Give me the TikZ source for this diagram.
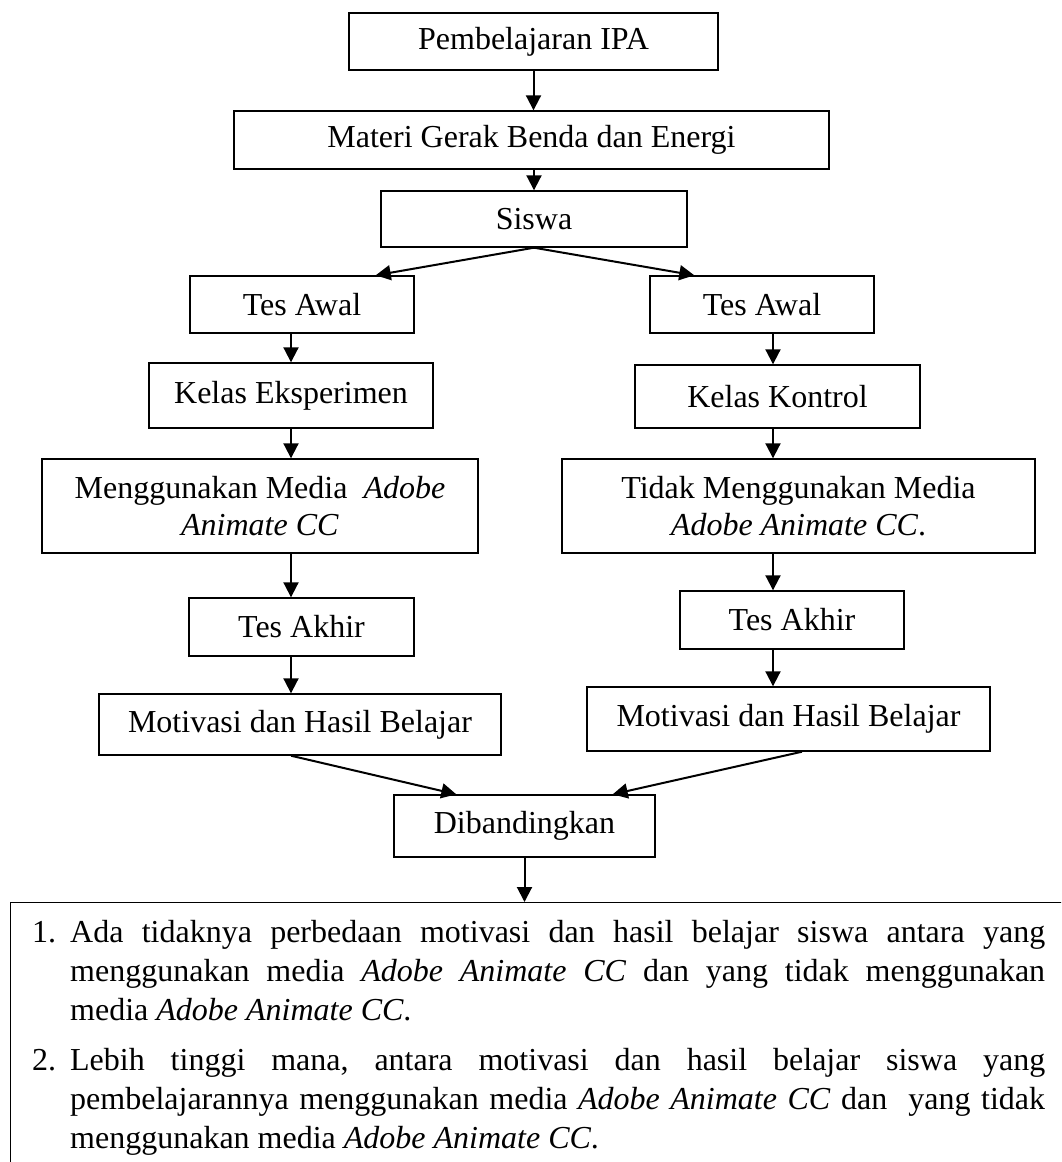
\documentclass[tikz,border=0pt]{standalone}
\usepackage{fontspec}
\setmainfont{Liberation Serif}
\usetikzlibrary{arrows.meta,calc}
\newcommand{\fullline}[1]{\makebox[975pt][s]{#1}}
\begin{document}
\begin{tikzpicture}[x=1pt,y=-1pt,
  box/.style={draw, line width=1.4pt, inner sep=0pt, align=center,
    font=\fontsize{32}{37}\selectfont},
  arr/.style={line width=2pt, -{Triangle[length=15pt,width=15pt]}}]
\fill[white] (0,0) rectangle (1061,1162);
\useasboundingbox (0,0) rectangle (1061,1162);
\clip (0,0) rectangle (1061,1162);

\coordinate (cL) at (291,0);
\coordinate (cR) at (773,0);

\node[box, minimum width=369, minimum height=57] (pem) at (533.5,41.5) {Pembelajaran IPA};
\node[box, minimum width=595, minimum height=58] (mat) at (531.5,140) {Materi Gerak Benda dan Energi};
\node[box, minimum width=306, minimum height=56] (sis) at (534,219) {Siswa};
\node[box, minimum width=224, minimum height=57] (tal) at (302,304.5) {Tes Awal};
\node[box, minimum width=224, minimum height=57] (tar) at (762,304.5) {Tes Awal};
\node[box, minimum width=284, minimum height=65] (kel) at (291,395.5) {Kelas Eksperimen};
\node[box, minimum width=285, minimum height=63] (kek) at (777.5,396.5) {Kelas Kontrol};
\node[box, minimum width=436, minimum height=94] (men) at (260,506) {Menggunakan Media~ \textit{Adobe}\\\textit{Animate CC}};
\node[box, minimum width=473, minimum height=94] (tid) at (798.5,506) {Tidak Menggunakan Media\\\textit{Adobe Animate CC}.};
\node[box, minimum width=225, minimum height=58] (tkl) at (301.5,627) {Tes Akhir};
\node[box, minimum width=224, minimum height=58] (tkr) at (792,620) {Tes Akhir};
\node[box, minimum width=402, minimum height=61] (mol) at (300,724.5) {Motivasi dan Hasil Belajar};
\node[box, minimum width=403, minimum height=64] (mor) at (788.5,719) {Motivasi dan Hasil Belajar};
\node[box, minimum width=261, minimum height=62] (dib) at (524.5,826) {Dibandingkan};
\node[draw, line width=1.4pt, inner sep=0pt, anchor=north west, minimum width=1100, minimum height=320] (resbox) at (9.5,902) {};

\node[anchor=base west, text width=1013pt, align=left, inner sep=0pt, font=\fontsize{32}{39}\selectfont] (res) at (32,942) {%
\frenchspacing\spaceskip=8pt plus 30pt minus 3pt
\leavevmode\hbox to 38pt{1.\hfil}\fullline{Ada tidaknya perbedaan motivasi dan hasil belajar siswa antara yang}\\
\hspace*{38pt}\fullline{menggunakan media \textit{Adobe Animate CC} dan yang tidak menggunakan}\\
\hspace*{38pt}media \textit{Adobe Animate CC}.\\[11pt]
\leavevmode\hbox to 38pt{2.\hfil}\fullline{Lebih tinggi mana, antara motivasi dan hasil belajar siswa yang}\\
\hspace*{38pt}\fullline{pembelajarannya menggunakan media \textit{Adobe Animate CC} dan\ \ yang tidak}\\
\hspace*{38pt}menggunakan media \textit{Adobe Animate CC}.};

\draw[arr] (pem.south) -- (pem.south |- mat.north);
\draw[arr] (mat.south -| sis) -- (sis.north);
\draw[arr] (sis.south) -- ($(tal.north east)+(-39,0)$);
\draw[arr] (sis.south) -- ($(tar.north west)+(45,0)$);
\draw[arr] (tal.south -| cL) -- (kel.north -| cL);
\draw[arr] (tar.south -| cR) -- (kek.north -| cR);
\draw[arr] (kel.south -| cL) -- (men.north -| cL);
\draw[arr] (kek.south -| cR) -- (tid.north -| cR);
\draw[arr] (men.south -| cL) -- (tkl.north -| cL);
\draw[arr] (tid.south -| cR) -- (tkr.north -| cR);
\draw[arr] (tkl.south -| cL) -- (mol.north -| cL);
\draw[arr] (tkr.south -| cR) -- (mor.north -| cR);
\draw[arr] (mol.south -| cL) -- ($(dib.north west)+(63,0)$);
\draw[arr] ($(mor.south)+(13.5,0)$) -- ($(dib.north east)+(-43,0)$);
\draw[arr] (dib.south) -- (dib.south |- resbox.north);
\end{tikzpicture}
\end{document}
